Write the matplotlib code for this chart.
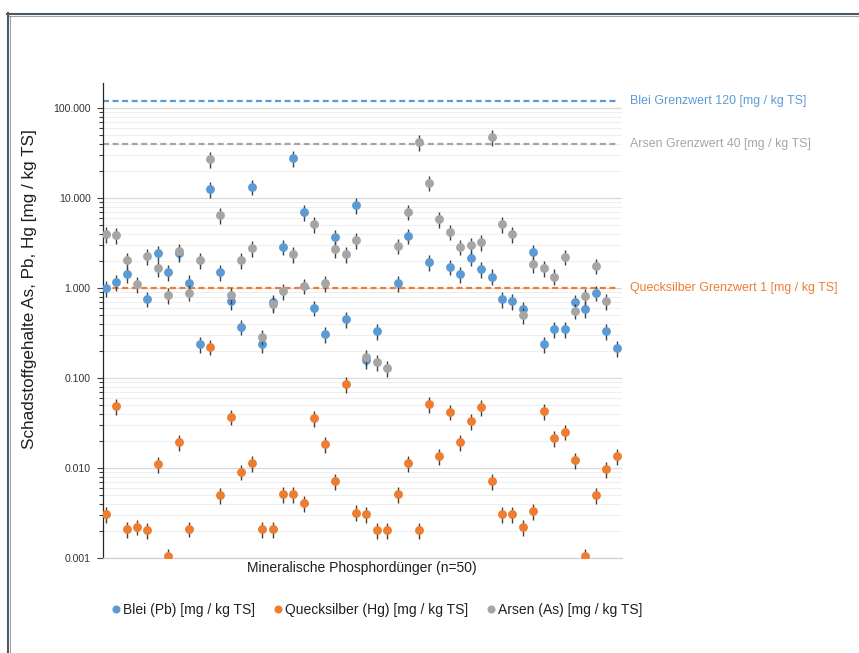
import numpy as np
import matplotlib
matplotlib.use("Agg")
import matplotlib.pyplot as plt
from matplotlib.lines import Line2D
from matplotlib.ticker import FixedLocator, LogLocator, NullFormatter

plt.rcParams["font.family"] = ["Liberation Sans", "DejaVu Sans"]

nan = np.nan

# Sample number of each mineral phosphate fertiliser
sample_no = np.arange(1, 51)

# Pollutant contents [mg / kg TS]
lead = [1.0, 1.17, 1.44, nan, 0.76, 2.47, 1.51, 2.45, 1.15, 0.237,
        12.5, 1.51, 0.72, 0.372, 13.4, 0.237, 0.70, 2.88, 27.8, 6.93,
        0.604, 0.308, 3.69, 0.45, 8.36, 0.158, 0.335, nan, 1.13, 3.81,
        nan, 1.93, nan, 1.73, 1.44, 2.17, 1.61, 1.34, 0.755, 0.72,
        0.584, 2.49, 0.237, 0.35, 0.35, 0.693, 0.58, 0.887, 0.335, 0.214]

mercury = [0.0031, 0.0485, 0.00208, 0.00223, 0.00205, 0.011, 0.00105, 0.0193, 0.00212, nan,
           0.223, 0.005, 0.0372, 0.0091, 0.0113, 0.00208, 0.00208, 0.0051, 0.0051, 0.00405,
           0.036, 0.0185, 0.0072, 0.0858, 0.0032, 0.0031, 0.00205, 0.00205, 0.0051, 0.0113,
           0.00205, 0.051, 0.0136, 0.0422, 0.0193, 0.0333, 0.0476, 0.0072, 0.0031, 0.0031,
           0.00219, 0.00333, 0.043, 0.0214, 0.0253, 0.0122, 0.00105, 0.005, 0.0098, 0.0136]

arsenic = [3.98, 3.88, 2.05, 1.1, 2.27, 1.67, 0.83, 2.56, 0.89, 2.05,
           26.9, 6.47, 0.836, 2.03, 2.80, 0.288, 0.664, 0.93, 2.39, 1.06,
           5.13, 1.13, 2.69, 2.39, 3.39, 0.17, 0.149, 0.128, 2.96, 7.05,
           41.6, 14.8, 5.8, 4.23, 2.88, 3.0, 3.24, 47.3, 5.1, 3.95,
           0.50, 1.85, 1.65, 1.34, 2.23, 0.56, 0.82, 1.77, 0.72, nan]

rel_error = 0.20  # relative uncertainty shown by the error bars

series_names = ["Blei (Pb) [mg / kg TS]",
                "Quecksilber (Hg) [mg / kg TS]",
                "Arsen (As) [mg / kg TS]"]
series_colors = ["#5B9BD5", "#ED7D31", "#A5A5A5"]

# Limit values
limit_values = [120, 40, 1]
limit_labels = ["Blei Grenzwert 120 [mg / kg TS]",
                "Arsen Grenzwert 40 [mg / kg TS]",
                "Quecksilber Grenzwert 1 [mg / kg TS]"]
limit_colors = ["#5B9BD5", "#A5A5A5", "#ED7D31"]

ytick_values = [0.001, 0.01, 0.1, 1, 10, 100]
ytick_labels = ["0.001", "0.010", "0.100", "1.000", "10.000", "100.000"]

W, H = 859, 653
fig = plt.figure(figsize=(W / 100, H / 100), dpi=100)
ax = fig.add_axes([103 / W, 1 - 558 / H, 519 / W, 475 / H])

ax.set_yscale("log")
ax.set_ylim(0.001, 190)
ax.set_xlim(0.74, 50.5)

# Grid
ax.yaxis.set_major_locator(FixedLocator(ytick_values))
ax.set_yticklabels(ytick_labels)
ax.yaxis.set_minor_locator(LogLocator(base=10, subs=np.arange(2, 10)))
ax.yaxis.set_minor_formatter(NullFormatter())
ax.grid(True, which="major", axis="y", color="#D9D9D9", lw=0.9, zorder=0)
ax.grid(True, which="minor", axis="y", color="#EFEFEF", lw=0.8, zorder=0)
ax.set_axisbelow(True)

ax.tick_params(axis="y", which="major", length=4, width=0.8, color="#404040",
               labelsize=7.6, pad=5, labelcolor="#333333")
ax.tick_params(axis="y", which="minor", length=3, width=0.8, color="#404040")
ax.tick_params(axis="x", which="both", bottom=False, labelbottom=False)

for side in ("top", "right"):
    ax.spines[side].set_visible(False)
ax.spines["left"].set_color("#262626")
ax.spines["left"].set_linewidth(0.9)
ax.spines["bottom"].set_color("#D0D0D0")
ax.spines["bottom"].set_linewidth(0.9)

# Limit lines with their labels
for val, lab, col in zip(limit_values, limit_labels, limit_colors):
    ax.axhline(val, xmin=0, xmax=0.992, color=col, lw=1.6,
               ls=(0, (2.7, 1.6)), zorder=2)
    ax.annotate(lab, xy=(1 + 8 / 519, val), xycoords=("axes fraction", "data"),
                va="center", ha="left", fontsize=8.9, color=col,
                annotation_clip=False)

# Data points with error bars
x = np.asarray(sample_no, dtype=float)
for k, (vals, col) in enumerate(zip([lead, mercury, arsenic], series_colors)):
    y = np.asarray(vals, dtype=float)
    m = ~np.isnan(y)
    ax.errorbar(x[m], y[m], yerr=rel_error * y[m], fmt="o", ms=6.4,
                mfc=col, mec=col, mew=0, ecolor="#404040", elinewidth=1.0,
                capsize=3.2, capthick=1.0, zorder=3 + k)

# Axis titles
fig.text(30 / W, 1 - 289 / H, "Schadstoffgehalte As, Pb, Hg [mg / kg TS]",
         rotation=90, ha="center", va="center", fontsize=12.3, color="#1F1F1F")
fig.text(362 / W, 1 - 568 / H, "Mineralische Phosphordünger (n=50)",
         ha="center", va="center", fontsize=10, color="#1F1F1F")

# Legend
handles = [Line2D([], [], ls="none", marker="o", ms=5.8, mfc=c, mec=c, mew=0)
           for c in series_colors]
fig.legend(handles, series_names, loc="center",
           bbox_to_anchor=(377 / W, 1 - 610 / H), ncol=3, frameon=False,
           fontsize=10, handlelength=0.6, handletextpad=0.25,
           columnspacing=1.3, borderaxespad=0, labelcolor="#1F1F1F")

# Outer frame
fig.add_artist(Line2D([7 / W, 1], [1 - 13.5 / H, 1 - 13.5 / H],
                      transform=fig.transFigure, color="#4B5A63", lw=1.5))
fig.add_artist(Line2D([7 / W, 1], [1 - 16 / H, 1 - 16 / H],
                      transform=fig.transFigure, color="#9AA3A8", lw=0.8))
fig.add_artist(Line2D([7.5 / W, 7.5 / W], [0, 1 - 13 / H],
                      transform=fig.transFigure, color="#4B5A63", lw=1.5))
fig.add_artist(Line2D([10 / W, 10 / W], [0, 1 - 16 / H],
                      transform=fig.transFigure, color="#9AA3A8", lw=0.8))

fig.savefig("out.png", dpi=100, facecolor="white")
